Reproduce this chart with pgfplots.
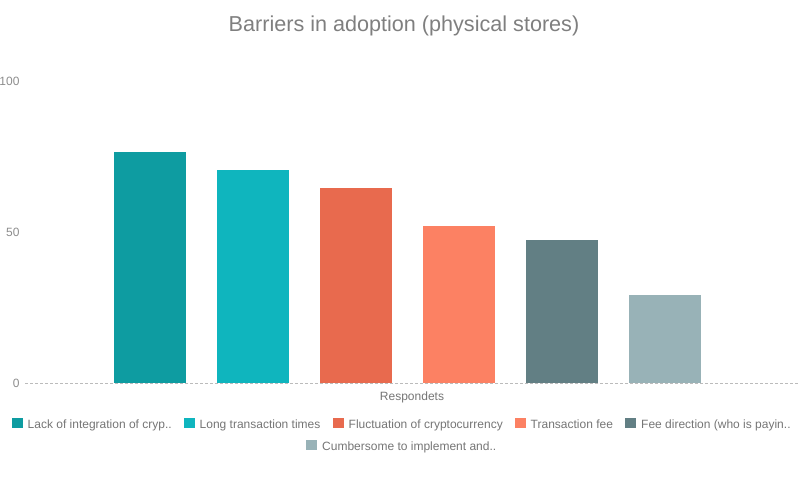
\documentclass[border=0pt]{standalone}
\usepackage{pgfplots}
\pgfplotsset{compat=1.18}
\usepackage{fontspec}
\setmainfont{Liberation Sans}
\definecolor{c1}{HTML}{0E9CA1}
\definecolor{c2}{HTML}{0FB5BE}
\definecolor{c3}{HTML}{E86A4E}
\definecolor{c4}{HTML}{FC8163}
\definecolor{c5}{HTML}{627F84}
\definecolor{c6}{HTML}{98B2B7}
\definecolor{titlegray}{HTML}{7F7F7F}
\definecolor{txtgray}{HTML}{757575}
\definecolor{tickgray}{HTML}{8C8C8C}
\definecolor{basegray}{HTML}{BBBBBB}
% #1 square x, #2 baseline y, #3 colour, #4 text
\newcommand{\legitem}[4]{%
  \fill[#3] (#1,#2-0.3) rectangle ++(11,10.8);
  \node[anchor=base west, inner sep=0pt, text=txtgray, font=\fontsize{12}{12}\selectfont] at (#1+16,#2) {#4};}
\begin{document}
\begin{tikzpicture}[x=1pt,y=1pt]
\useasboundingbox (0,0) rectangle (805,480);
\begin{axis}[at={(25pt,97pt)}, anchor=south west, scale only axis,
  width=775pt, height=302pt,
  xmin=-1.21, xmax=6.31, ymin=0, ymax=100,
  axis line style={draw=none},
  ytick={0,50,100}, xtick=\empty, major tick length=0pt,
  /pgf/number format/assume math mode=true,
  yticklabel style={font=\fontsize{12}{12}\selectfont, text=tickgray, anchor=east, xshift=-2pt},
  ybar, bar width=72pt, bar shift=0pt, clip=false]
\addplot[fill=c1, draw=none] coordinates {(0,76.5)};
\addplot[fill=c2, draw=none] coordinates {(1,70.5)};
\addplot[fill=c3, draw=none] coordinates {(2,64.5)};
\addplot[fill=c4, draw=none] coordinates {(3,52)};
\addplot[fill=c5, draw=none] coordinates {(4,47.5)};
\addplot[fill=c6, draw=none] coordinates {(5,29)};
\draw[basegray, line width=0.8pt, dash pattern=on 3pt off 2pt] (axis cs:-1.21,0) -- (axis cs:6.31,0);
\end{axis}
\node[anchor=base, inner sep=0pt, text=titlegray, font=\fontsize{21.6}{21.6}\selectfont] at (404,448) {Barriers in adoption (physical stores)};
\node[text=txtgray, font=\fontsize{12}{12}\selectfont] at (412,83) {Respondets};
\legitem{11.5}{52}{c1}{Lack of integration of cryp..}
\legitem{183.5}{52}{c2}{Long transaction times}
\legitem{332.5}{52}{c3}{Fluctuation of cryptocurrency}
\legitem{514.5}{52}{c4}{Transaction fee}
\legitem{625}{52}{c5}{Fee direction (who is payin..}
\legitem{306}{30}{c6}{Cumbersome to implement and..}
\end{tikzpicture}
\end{document}
